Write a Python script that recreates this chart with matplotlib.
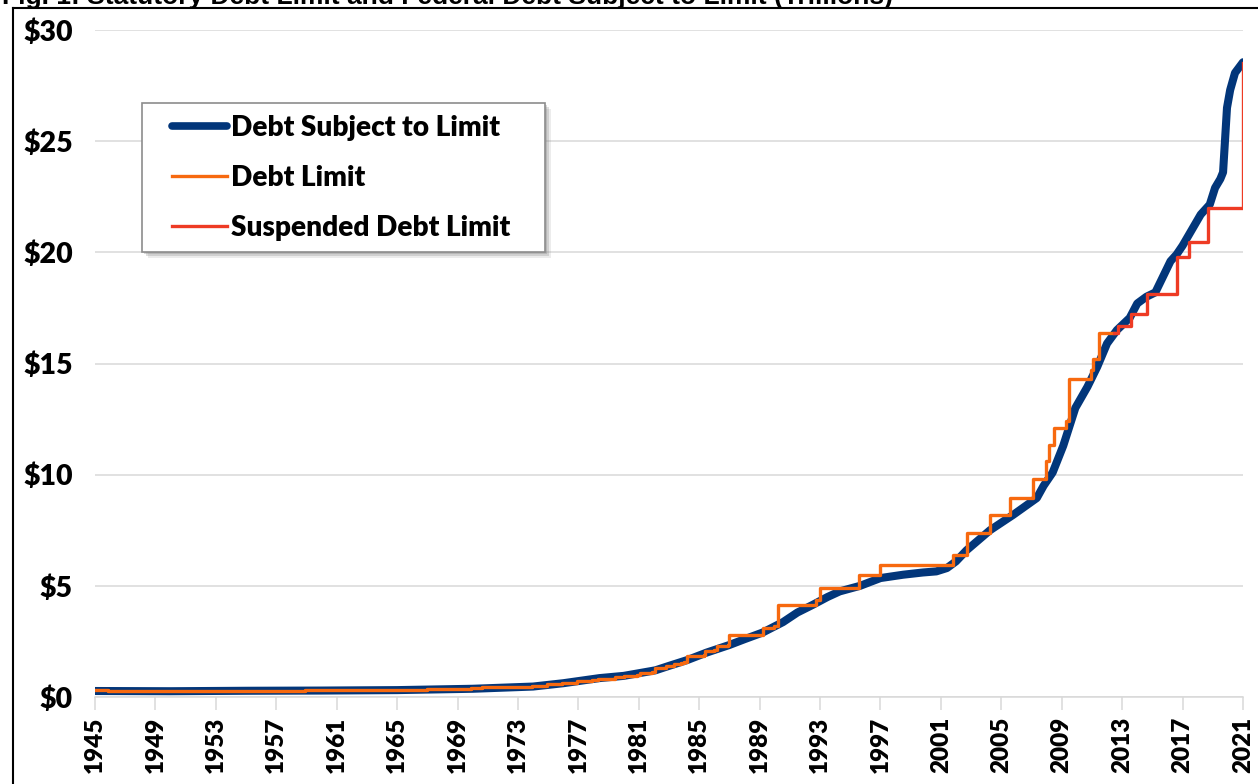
import matplotlib
matplotlib.use("Agg")
import matplotlib.pyplot as plt
from matplotlib.lines import Line2D
from matplotlib.patches import Rectangle

# Federal debt subject to limit, trillions
debt_years = [1945.0, 1950.0, 1955.0, 1960.0, 1965.0, 1970.0, 1974.0, 1976.0,
              1978.4, 1980.0, 1982.1, 1983.0, 1984.2, 1985.5, 1987.0, 1988.0,
              1989.2, 1990.55, 1991.5, 1992.5, 1993.5, 1994.3, 1995.65, 1997.0,
              1998.5, 1999.8, 2000.7, 2001.4, 2002.0, 2002.7, 2004.25, 2005.8,
              2007.35, 2007.8, 2008.4, 2009.1, 2009.9, 2010.7, 2011.35, 2012.0,
              2012.65, 2013.5, 2014.0, 2014.6, 2015.2, 2015.7, 2016.2, 2016.6,
              2017.0, 2017.6, 2018.2, 2018.8, 2019.15, 2019.5, 2019.68, 2019.94,
              2020.15, 2020.47, 2021.0]
debt_values = [0.27, 0.26, 0.28, 0.29, 0.31, 0.37, 0.47, 0.62,
               0.85, 0.95, 1.2, 1.4, 1.66, 2.0, 2.34, 2.6,
               2.9, 3.37, 3.8, 4.14, 4.5, 4.75, 5.0, 5.35,
               5.5, 5.6, 5.65, 5.8, 6.1, 6.6, 7.5, 8.2,
               8.95, 9.5, 10.1, 11.3, 13.0, 13.95, 14.85, 15.9,
               16.5, 17.05, 17.7, 18.0, 18.2, 18.9, 19.6, 19.9,
               20.3, 21.0, 21.7, 22.15, 22.9, 23.3, 23.6, 26.5,
               27.3, 28.07, 28.55]

# statutory debt limit, trillions, value from each change date on
limit_years = [1945.0, 1945.85, 1954.0, 1956.0, 1957.0, 1957.5, 1958.1, 1958.9,
               1960.0, 1960.9, 1961.9, 1963.0, 1963.9, 1964.9, 1965.9, 1966.9,
               1967.0, 1968.9, 1969.9, 1970.6, 1971.9, 1972.3, 1973.9, 1974.9,
               1975.9, 1976.9, 1977.9, 1978.3, 1979.0, 1979.4, 1980.0, 1980.2,
               1980.9, 1981.1, 1981.9, 1982.1, 1982.8, 1983.3, 1983.8, 1984.0,
               1984.2, 1985.3, 1985.4, 1986.0, 1986.2, 1986.9, 1987.0, 1989.2,
               1989.95, 1990.2, 1992.75, 1993.0, 1995.55, 1996.95, 2001.8, 2002.75,
               2004.25, 2005.6, 2007.1, 2007.95, 2008.15, 2008.5, 2009.3, 2009.45,
               2010.95, 2011.05, 2011.45, 2012.45]
limit_values = [0.300, 0.275, 0.281, 0.278, 0.275, 0.280, 0.288, 0.295,
                0.293, 0.298, 0.308, 0.309, 0.324, 0.328, 0.330, 0.336,
                0.358, 0.377, 0.395, 0.430, 0.450, 0.465, 0.495, 0.577,
                0.636, 0.700, 0.752, 0.798, 0.830, 0.879, 0.925, 0.935,
                0.985, 1.079, 1.143, 1.290, 1.389, 1.490, 1.520, 1.573,
                1.824, 1.904, 2.079, 2.111, 2.300, 2.320, 2.800, 3.123,
                3.195, 4.145, 4.370, 4.900, 5.500, 5.950, 6.400, 7.384,
                8.184, 8.965, 9.815, 10.615, 11.315, 12.104, 12.394, 14.294,
                14.694, 15.194, 16.394, 16.394]

# limit while suspended
susp_years = [2012.45, 2012.75, 2013.6, 2014.65, 2016.65, 2017.4, 2018.65, 2021.0]
susp_values = [16.394, 16.699, 17.212, 18.113, 19.809, 20.456, 21.988, 28.5]

tick_years = list(range(1945, 2022, 4))
y_ticks = [0, 5, 10, 15, 20, 25, 30]
y_labels = ["$0", "$5", "$10", "$15", "$20", "$25", "$30"]

title = "Fig. 1: Statutory Debt Limit and Federal Debt Subject to Limit (Trillions)"
series_names = ["Debt Subject to Limit", "Debt Limit", "Suspended Debt Limit"]

BLUE = "#02367A"
ORANGE = "#F7690F"
RED = "#EE3B24"
GRID = "#D9D9D9"
W, H = 1258, 784


def fx(px):
    return px / W


def fy(py):
    return 1 - py / H


fig = plt.figure(figsize=(W / 100, H / 100), dpi=100)
ax = fig.add_axes([fx(95), fy(697), fx(1148), 667 / H])

ax.plot(debt_years, debt_values, color=BLUE, lw=5.8, solid_capstyle="round",
        solid_joinstyle="round", zorder=2)
ax.step(limit_years, limit_values, where="post", color=ORANGE, lw=2.4, zorder=3)
ax.step(susp_years, susp_values, where="post", color=RED, lw=2.4, zorder=3)

ax.set_xlim(1945, 2021)
ax.set_ylim(0, 30)
for s in ["top", "right", "left"]:
    ax.spines[s].set_visible(False)
ax.spines["bottom"].set_color(GRID)
ax.spines["bottom"].set_linewidth(1.1)
ax.grid(axis="y", color=GRID, lw=1.1)
ax.set_axisbelow(True)

tick_font = dict(family="Lato", weight="heavy")
ax.set_yticks(y_ticks, y_labels, fontsize=20.5, **tick_font)
ax.set_xticks(tick_years, [str(y) for y in tick_years], rotation=90,
              fontsize=17.5, **tick_font)
ax.tick_params(axis="y", length=0, pad=16)
ax.tick_params(axis="x", length=9, width=1.1, color=GRID, pad=5)

# legend box with a soft shadow
for off, a in [(6, 0.15), (4, 0.25), (2, 0.3)]:
    ax.add_patch(Rectangle((fx(142 + off), fy(252 + off)), fx(403), 149 / H,
                           transform=fig.transFigure, facecolor="grey",
                           edgecolor="none", alpha=a, zorder=4, clip_on=False))
ax.add_patch(Rectangle((fx(142), fy(252)), fx(403), 149 / H,
                       transform=fig.transFigure, facecolor="white",
                       edgecolor="#8C8C8C", lw=1.2, zorder=4, clip_on=False))
handles = [Line2D([], [], color=BLUE, lw=5.5, solid_capstyle="round"),
           Line2D([], [], color=ORANGE, lw=2.4),
           Line2D([], [], color=RED, lw=2.4)]
leg = ax.legend(handles, series_names, frameon=False, loc="center left",
                bbox_to_anchor=(fx(172), fy(178)), bbox_transform=fig.transFigure,
                borderpad=0, borderaxespad=0, handlelength=1.95, handletextpad=0.14,
                labelspacing=0.86, prop=dict(family="Lato", weight="heavy", size=20.2))
leg.set_zorder(5)

# title, cut off at the top like the source image
fig.text(fx(2), fy(4), title, ha="left", va="baseline", fontsize=19,
         fontweight="bold", family="Liberation Sans")

# outer frame
fig.add_artist(Line2D([fx(13), fx(13)], [0, fy(7.5)], transform=fig.transFigure,
                      color="black", lw=1.5))
fig.add_artist(Line2D([fx(13), 1], [fy(7.5), fy(7.5)], transform=fig.transFigure,
                      color="black", lw=1.5))

fig.savefig("out.png", dpi=100)
